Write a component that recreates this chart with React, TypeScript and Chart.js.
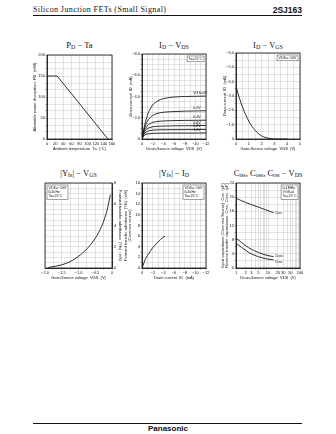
import React, { useEffect, useRef } from 'react';
import { Chart, registerables } from 'chart.js';
Chart.register(...registerables);

const FONT = '"Liberation Sans", Arial, sans-serif';
const SERIF = '"Liberation Serif", "Times New Roman", serif';

// ---------- PD - Ta ----------
const pdTa_temp = [0, 25, 150];
const pdTa_power = [150, 150, 0];
const pdTa_xTickValues = [0, 20, 40, 60, 80, 100, 120, 140, 160];
const pdTa_xTickLabels = ['0', '20', '40', '60', '80', '100', '120', '140', '160'];
const pdTa_yTickValues = [0, 50, 100, 150, 200];
const pdTa_yTickLabels = ['0', '50', '100', '150', '200'];

// ---------- ID - VDS ----------
const idVds_vds = [0, -0.25, -0.5, -1, -1.5, -2, -3, -4, -6, -8, -10, -12];
const idVds_vgs0 = [0, -0.7, -1.3, -2.2, -2.8, -3.2, -3.6, -3.8, -3.95, -4.0, -4.02, -4.04];
const idVds_vgs02 = [0, -0.6, -1.05, -1.65, -2.0, -2.22, -2.42, -2.52, -2.58, -2.62, -2.64, -2.66];
const idVds_vgs04 = [0, -0.5, -0.85, -1.25, -1.45, -1.56, -1.66, -1.7, -1.73, -1.75, -1.76, -1.77];
const idVds_vgs06 = [0, -0.42, -0.7, -0.97, -1.08, -1.15, -1.2, -1.22, -1.24, -1.25, -1.26, -1.27];
const idVds_vgs08 = [0, -0.33, -0.54, -0.72, -0.79, -0.83, -0.86, -0.87, -0.88, -0.88, -0.89, -0.9];
const idVds_vgs10 = [0, -0.24, -0.37, -0.47, -0.51, -0.53, -0.55, -0.55, -0.56, -0.56, -0.56, -0.57];
const idVds_curveLabels = ['VGS=0V', '0.2V', '0.4V', '0.6V', '0.8V', '1.0V'];
const idVds_xTickValues = [0, -2, -4, -6, -8, -10, -12];
const idVds_xTickLabels = ['0', '−2', '−4', '−6', '−8', '−10', '−12'];
const idVds_yTickValues = [0, -2, -4, -6, -8];
const idVds_yTickLabels = ['0', '−2.0', '−4.0', '−6.0', '−8.0'];

// ---------- ID - VGS ----------
const idVgs_vgs = [0, 0.25, 0.5, 0.75, 1.0, 1.25, 1.5, 1.75, 2.0, 2.25, 2.5, 2.75, 3.0, 3.5, 4.0];
const idVgs_id = [-3.68, -2.9, -2.24, -1.7, -1.24, -0.88, -0.6, -0.38, -0.22, -0.12, -0.06, -0.02, 0, 0, 0];
const idVgs_xTickValues = [0, 1, 2, 3, 4, 5];
const idVgs_xTickLabels = ['0', '1', '2', '3', '4', '5'];
const idVgs_yTickValues = [0, -1, -2, -3, -4, -5, -6];
const idVgs_yTickLabels = ['0', '−1.0', '−2.0', '−3.0', '−4.0', '−5.0', '−6.0'];

// ---------- |Yfs| - VGS ----------
const yfsVgs_vgs = [-1.9, -1.5, -1.25, -1.0, -0.75, -0.5, -0.3, -0.15, -0.05];
const yfsVgs_yfs = [0.05, 0.3, 0.6, 1.1, 1.8, 2.8, 4.0, 5.4, 6.9];
const yfsVgs_xTickValues = [-2, -1.5, -1, -0.5, 0];
const yfsVgs_xTickLabels = ['−2.0', '−1.5', '−1.0', '−0.5', '0'];
const yfsVgs_yTickValues = [0, 2, 4, 6, 8];
const yfsVgs_yTickLabels = ['0', '2', '4', '6', '8'];

// ---------- |Yfs| - ID ----------
const yfsId_id = [0, -0.2, -0.6, -1.0, -1.5, -2.0, -2.8, -3.5, -4.3];
const yfsId_yfs = [0, 0.5, 1.6, 2.3, 3.1, 3.8, 4.7, 5.4, 6.0];
const yfsId_xTickValues = [0, -2, -4, -6, -8, -10, -12];
const yfsId_xTickLabels = ['0', '−2', '−4', '−6', '−8', '−10', '−12'];
const yfsId_yTickValues = [0, 2, 4, 6, 8, 10, 12, 14, 16];
const yfsId_yTickLabels = ['0', '2', '4', '6', '8', '10', '12', '14', '16'];

// ---------- C - VDS ----------
const cap_vds = [1, 1.5, 2, 3, 5, 7, 10, 15];
const cap_ciss = [19.7, 19.0, 18.5, 17.9, 17.2, 16.7, 16.2, 15.6];
const cap_coss = [8.4, 7.2, 6.3, 5.3, 4.4, 3.9, 3.5, 3.2];
const cap_crss = [7.0, 5.8, 5.0, 4.0, 3.2, 2.8, 2.5, 2.3];
const cap_xTickValues = [1, 2, 3, 5, 10, 20, 30, 50, 100];
const cap_xTickLabels = ['1', '2', '3', '5', '10', '20', '30', '50', '100'];
const cap_yTickValues = [0, 4, 8, 12, 16, 20, 24];
const cap_yTickLabels = ['0', '4', '8', '12', '16', '20', '24'];

function range(min: number, max: number, step: number) {
  const out: number[] = [];
  const n = Math.round((max - min) / step);
  for (let i = 0; i <= n; i++) out.push(Math.round((min + i * step) * 1e6) / 1e6);
  return out;
}
const logGrid = [1, 2, 3, 4, 5, 6, 7, 8, 9, 10, 20, 30, 40, 50, 60, 70, 80, 90, 100];

type AxisDef = {
  type?: 'linear' | 'logarithmic';
  min: number; max: number; grid: number[];
  tickValues: number[]; tickLabels: string[];
  title: string | string[]; size: number; position: string; reverse?: boolean;
};

function makeScale(d: AxisDef, isX: boolean) {
  return {
    type: d.type || 'linear',
    position: d.position,
    min: d.min, max: d.max, reverse: !!d.reverse,
    afterBuildTicks: (s: any) => { s.ticks = d.grid.map((v) => ({ value: v })); },
    afterFit: (s: any) => { if (isX) s.height = d.size; else s.width = d.size; },
    ticks: {
      autoSkip: false, maxRotation: 0, minRotation: 0, padding: 0.5,
      font: { family: FONT, size: 4 }, color: '#111',
      callback: (v: number) => {
        const i = d.tickValues.findIndex((t) => Math.abs(t - v) < 1e-6);
        return i >= 0 ? d.tickLabels[i] : '';
      },
    },
    grid: { color: '#c4c4c4', lineWidth: 0.5, tickLength: 1.5, tickColor: '#555' },
    border: { display: true, color: '#111', width: 0.8 },
    title: { display: true, text: d.title, font: { family: FONT, size: 4 }, color: '#111', padding: { top: 0, bottom: 0 } },
  };
}

const framePlugin = {
  id: 'frame',
  afterDraw(chart: any) {
    const { ctx, chartArea: a } = chart;
    ctx.save();
    ctx.strokeStyle = '#111';
    ctx.lineWidth = 0.8;
    ctx.strokeRect(a.left, a.top, a.right - a.left, a.bottom - a.top);
    ctx.restore();
  },
};

type CurveLabel = { x: number; y: number; text: string; base?: string };
function makeNotes(curveLabels: CurveLabel[], box: string[], corner: 'tl' | 'tr') {
  return {
    id: 'notes',
    afterDatasetsDraw(chart: any) {
      const { ctx, chartArea: a, scales } = chart;
      ctx.save();
      ctx.font = `3.6px ${FONT}`;
      ctx.fillStyle = '#111';
      ctx.textAlign = 'left';
      for (const l of curveLabels) {
        ctx.textBaseline = l.base || 'bottom';
        ctx.fillText(l.text, scales.x.getPixelForValue(l.x), scales.y.getPixelForValue(l.y));
      }
      if (box.length) {
        const lh = 4.3;
        const w = Math.max(...box.map((t) => ctx.measureText(t).width)) + 3;
        const h = box.length * lh + 1.5;
        const x = corner === 'tl' ? a.left + 2 : a.right - 2 - w;
        const y = a.top + 2;
        ctx.fillStyle = '#fff';
        ctx.fillRect(x, y, w, h);
        ctx.strokeStyle = '#444';
        ctx.lineWidth = 0.5;
        ctx.strokeRect(x, y, w, h);
        ctx.fillStyle = '#111';
        ctx.textBaseline = 'top';
        box.forEach((t, i) => ctx.fillText(t, x + 1.5, y + 1 + i * lh));
      }
      ctx.restore();
    },
  };
}

function series(xs: number[], ys: number[], tension = 0.4) {
  return {
    data: xs.map((x, i) => ({ x, y: ys[i] })),
    borderColor: '#1a1a1a', borderWidth: 0.9, pointRadius: 0, fill: false,
    tension, cubicInterpolationMode: tension ? 'monotone' : 'default',
  };
}

function makeConfig(datasets: any[], xa: AxisDef, ya: AxisDef, pad: any, notes: any) {
  return {
    type: 'line',
    data: { datasets },
    options: {
      responsive: false, animation: false, events: [],
      layout: { padding: pad },
      plugins: { legend: { display: false }, tooltip: { enabled: false } },
      scales: { x: makeScale(xa, true), y: makeScale(ya, false) },
    },
    plugins: [framePlugin, notes],
  };
}

function ChartBox({ left, top, width, height, make }: any) {
  const ref = useRef<HTMLCanvasElement>(null);
  useEffect(() => {
    const c = new Chart(ref.current as HTMLCanvasElement, make() as any);
    return () => c.destroy();
  }, []);
  return (
    <canvas ref={ref} width={width} height={height}
      style={{ position: 'absolute', left, top, width, height }} />
  );
}

const sub = (t: string) => <sub style={{ fontSize: '0.7em', verticalAlign: '-0.2em', lineHeight: 0 }}>{t}</sub>;

function Title({ x, y, children }: any) {
  return (
    <div style={{
      position: 'absolute', left: x, top: y, transform: 'translate(-50%, -50%)',
      fontFamily: SERIF, fontSize: 8.5, whiteSpace: 'nowrap', color: '#111', lineHeight: 1,
    }}>{children}</div>
  );
}

const PAD_L = { top: 4, right: 5, left: 0, bottom: 0 };
const PAD_R = { top: 4, right: 0, left: 5, bottom: 0 };

export default function App() {
  const c1 = () => makeConfig(
    [series(pdTa_temp, pdTa_power, 0)],
    { min: 0, max: 160, grid: range(0, 160, 20), tickValues: pdTa_xTickValues, tickLabels: pdTa_xTickLabels,
      title: 'Ambient temperature  Ta  (°C)', size: 12, position: 'bottom' },
    { min: 0, max: 200, grid: range(0, 200, 50 / 3), tickValues: pdTa_yTickValues, tickLabels: pdTa_yTickLabels,
      title: 'Allowable power dissipation  PD  (mW)', size: 15, position: 'left' },
    PAD_L, makeNotes([], [], 'tr'));

  const idSeries = [idVds_vgs0, idVds_vgs02, idVds_vgs04, idVds_vgs06, idVds_vgs08, idVds_vgs10];
  const c2 = () => makeConfig(
    idSeries.map((s) => series(idVds_vds, s)),
    { min: -12, max: 0, reverse: true, grid: range(-12, 0, 1), tickValues: idVds_xTickValues, tickLabels: idVds_xTickLabels,
      title: 'Drain-Source voltage  VDS  (V)', size: 12, position: 'bottom' },
    { min: -8, max: 0, reverse: true, grid: range(-8, 0, 0.5), tickValues: idVds_yTickValues, tickLabels: idVds_yTickLabels,
      title: 'Drain current  ID  (mA)', size: 14, position: 'left' },
    PAD_L,
    makeNotes(idSeries.map((s, i) => ({ x: -9.6, y: s[s.length - 2] - 0.12, text: idVds_curveLabels[i] })), ['Ta=25°C'], 'tr'));

  const c3 = () => makeConfig(
    [series(idVgs_vgs, idVgs_id)],
    { min: 0, max: 5, grid: range(0, 5, 0.5), tickValues: idVgs_xTickValues, tickLabels: idVgs_xTickLabels,
      title: 'Gate-Source voltage  VGS  (V)', size: 12, position: 'bottom' },
    { min: -6, max: 0, reverse: true, grid: range(-6, 0, 0.5), tickValues: idVgs_yTickValues, tickLabels: idVgs_yTickLabels,
      title: 'Drain current  ID  (mA)', size: 14, position: 'left' },
    PAD_L, makeNotes([], ['VDS=−10V'], 'tr'));

  const c4 = () => makeConfig(
    [series(yfsVgs_vgs, yfsVgs_yfs)],
    { min: -2, max: 0, grid: range(-2, 0, 0.25), tickValues: yfsVgs_xTickValues, tickLabels: yfsVgs_xTickLabels,
      title: 'Gate-Source voltage  VGS  (V)', size: 12, position: 'bottom' },
    { min: 0, max: 8, grid: range(0, 8, 0.5), tickValues: yfsVgs_yTickValues, tickLabels: yfsVgs_yTickLabels,
      title: 'Forward transfer admittance  |Yfs|  (mS)', size: 11, position: 'right' },
    PAD_R, makeNotes([], ['VDS=−10V', 'f=1kHz', 'Ta=25°C'], 'tl'));

  const c5 = () => makeConfig(
    [series(yfsId_id, yfsId_yfs)],
    { min: -12, max: 0, reverse: true, grid: range(-12, 0, 1), tickValues: yfsId_xTickValues, tickLabels: yfsId_xTickLabels,
      title: 'Drain current  ID  (mA)', size: 12, position: 'bottom' },
    { min: 0, max: 16, grid: range(0, 16, 1), tickValues: yfsId_yTickValues, tickLabels: yfsId_yTickLabels,
      title: ['Forward transfer admittance  |Yfs|  (mS)', '(Common source)'], size: 19, position: 'left' },
    PAD_L, makeNotes([], ['VDS=−10V', 'f=1kHz', 'Ta=25°C'], 'tr'));

  const n = cap_vds.length - 1;
  const c6 = () => makeConfig(
    [series(cap_vds, cap_ciss), series(cap_vds, cap_coss), series(cap_vds, cap_crss)],
    { type: 'logarithmic', min: 1, max: 100, grid: logGrid, tickValues: cap_xTickValues, tickLabels: cap_xTickLabels,
      title: 'Drain-Source voltage  VDS  (V)', size: 12, position: 'bottom' },
    { min: 0, max: 24, grid: range(0, 24, 2), tickValues: cap_yTickValues, tickLabels: cap_yTickLabels,
      title: ['Input capacitance (Common Source)  Ciss  (pF)', 'Reverse transfer capacitance  Crss,  Coss  (pF)'], size: 16, position: 'left' },
    PAD_L,
    makeNotes([
      { x: 16.5, y: cap_ciss[n], text: 'Ciss', base: 'middle' },
      { x: 16.5, y: cap_coss[n] + 0.3, text: 'Coss', base: 'middle' },
      { x: 16.5, y: cap_crss[n] - 0.5, text: 'Crss', base: 'middle' },
    ], ['f=1MHz', 'VGS=0', 'Ta=25°C'], 'tr'));

  return (
    <div style={{ position: 'absolute', left: 0, top: 0, width: 336, height: 434, background: '#fff', overflow: 'hidden' }}>
      <div style={{ position: 'absolute', left: 33, top: 6, fontFamily: SERIF, fontSize: 8, letterSpacing: 0.4, color: '#111', whiteSpace: 'nowrap', lineHeight: 1 }}>
        Silicon Junction FETs (Small Signal)
      </div>
      <div style={{ position: 'absolute', right: 34, top: 6, fontFamily: FONT, fontWeight: 'bold', fontSize: 8.5, color: '#111', lineHeight: 1 }}>
        2SJ163
      </div>
      <div style={{ position: 'absolute', left: 33, top: 14.5, width: 269, height: 1.3, background: '#111' }} />

      <Title x={79.5} y={45}>P{sub('D')} − Ta</Title>
      <Title x={174} y={45}>I{sub('D')} − V{sub('DS')}</Title>
      <Title x={268} y={45}>I{sub('D')} − V{sub('GS')}</Title>
      <Title x={78.5} y={173}>|Y{sub('fs')}| − V{sub('GS')}</Title>
      <Title x={174} y={173}>|Y{sub('fs')}| − I{sub('D')}</Title>
      <Title x={268} y={173}>C{sub('iss')}, C{sub('oss')}, C{sub('rss')} − V{sub('DS')}</Title>

      <ChartBox left={32} top={51} width={85} height={100} make={c1} />
      <ChartBox left={128} top={50} width={83} height={101} make={c2} />
      <ChartBox left={222} top={49} width={83} height={102} make={c3} />
      <ChartBox left={40} top={179} width={83} height={101} make={c4} />
      <ChartBox left={123} top={179} width={88} height={101} make={c5} />
      <ChartBox left={220} top={179} width={85} height={101} make={c6} />

      <div style={{ position: 'absolute', left: 33, top: 422.5, width: 269, height: 1, background: '#111' }} />
      <div style={{ position: 'absolute', left: 168, top: 429, transform: 'translate(-50%, -50%)', fontFamily: FONT, fontWeight: 'bold', fontSize: 8, color: '#111', lineHeight: 1 }}>
        Panasonic
      </div>
    </div>
  );
}
